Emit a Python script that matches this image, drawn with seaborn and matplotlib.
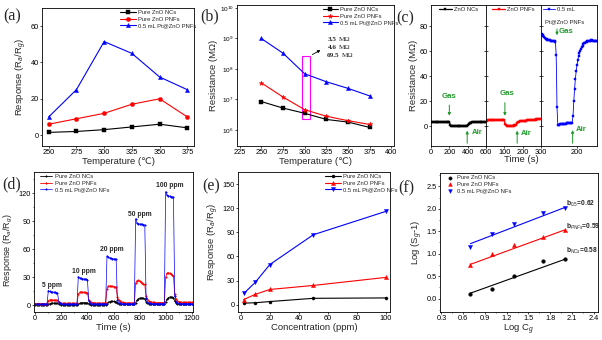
import matplotlib
matplotlib.use("Agg")
import matplotlib.pyplot as plt
import numpy as np
import seaborn as sns
from matplotlib.patches import Rectangle
from matplotlib.ticker import MultipleLocator, FixedLocator, NullLocator, FormatStrFormatter

# ---------------- data ----------------
# (a) response vs. operating temperature
temps = [250, 275, 300, 325, 350, 375]
resp_nc = [1.5, 2.0, 3.0, 4.5, 6.0, 4.0]
resp_pnf = [6.0, 9.0, 12.0, 17.0, 20.0, 10.0]
resp_pt = [10.0, 25.0, 51.5, 45.0, 32.0, 25.0]

# (b) baseline resistance vs. temperature
res_nc = [8.5e6, 5.2e6, 3.5e6, 2.2e6, 1.8e6, 1.2e6]
res_pnf = [3.5e7, 1.2e7, 4.6e6, 2.8e6, 2.0e6, 1.5e6]
res_pt = [1.0e9, 3.3e8, 6.95e7, 3.8e7, 2.3e7, 1.3e7]
res_notes = ["3.5", "4.6", "69.5"]

# (c) resistance transients (MOhm)
t_nc = list(range(0, 601, 10))
r_nc = [3.5, 3.5, 3.5, 3.5, 3.5, 3.5, 3.5, 3.5, 3.5, 3.5,
        3.5, 3.5, 3.5, 3.4, 3.4, 3.4, 3.4, 3.4, 3.4, 3.4,
        3.2, 1.0, 0.4, 0.3, 0.2, 0.2, 0.2, 0.2, 0.2, 0.2,
        0.2, 0.2, 0.2, 0.2, 0.2, 0.2, 0.2, 0.2, 0.3, 0.4,
        1.0, 1.8, 2.3, 2.6, 2.8, 3.0, 3.1, 3.1, 3.2, 3.2,
        3.2, 3.2, 3.2, 3.2, 3.2, 3.3, 3.3, 3.3, 3.3, 3.3,
        3.3]
t_pnf = list(range(0, 301, 5))
r_pnf = [4.4, 4.4, 4.5, 4.5, 4.5, 4.5, 4.5, 4.6, 4.6, 4.6,
         4.6, 4.6, 4.6, 4.7, 4.7, 4.7, 4.7, 4.7, 4.7, 4.7,
         4.6, 1.6, 0.6, 0.4, 0.4, 0.4, 0.4, 0.4, 0.4, 0.4,
         0.4, 0.5, 0.5, 0.8, 2.4, 3.2, 3.5, 3.7, 3.8, 3.9,
         4.0, 4.1, 4.2, 4.3, 4.4, 4.5, 4.6, 4.7, 4.8, 4.9,
         5.0, 5.0, 5.1, 5.2, 5.2, 5.3, 5.3, 5.4, 5.4, 5.5,
         5.5]
t_pt = list(range(112, 251, 2))
r_pt = [74, 73, 72, 71, 70.5, 70, 69.6, 69.3, 69, 68.8,
        68.6, 68.5, 68.4, 68.3, 68.2, 68, 68, 67.5, 57, 15,
        1.0, 1.1, 1.2, 1.3, 1.4, 1.5, 1.6, 1.7, 1.8, 1.9,
        2.0, 2.1, 2.2, 2.3, 2.3, 2.4, 2.4, 2.5, 2.6, 8,
        20, 30, 38, 44, 49, 53, 56, 58.5, 60.5, 62,
        63.5, 64.5, 65.5, 66.2, 66.8, 67.2, 67.5, 67.8, 68, 68,
        68.2, 68.5, 69, 68.8, 68.5, 68.3, 68.2, 68, 68, 68]

# (d) dynamic response to 5-100 ppm
t_dyn = list(range(0, 1201, 10))
dyn_nc = [0.8, 0.8, 0.8, 0.8, 0.8, 0.8, 0.8, 0.8, 0.8, 0.8,
          1.2, 1.8, 2.2, 2.5, 2.5, 2.4, 2.3, 2.2, 1.5, 1.1,
          0.9, 0.9, 0.9, 0.9, 0.9, 0.9, 0.9, 0.9, 0.9, 0.9,
          0.9, 0.9, 0.9, 1.5, 2.3, 2.8, 3.0, 3.0, 2.9, 2.8,
          2.6, 1.7, 1.2, 1.0, 1.0, 1.0, 1.0, 1.0, 1.0, 1.0,
          1.0, 1.0, 1.0, 1.0, 1.0, 2.0, 3.2, 4.0, 4.5, 4.5,
          4.3, 4.1, 3.8, 2.4, 1.6, 1.3, 1.1, 1.1, 1.1, 1.1,
          1.1, 1.1, 1.1, 1.1, 1.1, 1.1, 1.1, 3.0, 5.5, 7.0,
          7.8, 8.0, 7.8, 7.5, 7.0, 4.0, 2.5, 1.8, 1.5, 1.3,
          1.3, 1.3, 1.3, 1.3, 1.3, 1.3, 1.3, 1.3, 1.3, 1.3,
          3.5, 6.5, 8.2, 9.0, 9.0, 8.7, 8.3, 4.5, 2.6, 1.9,
          1.6, 1.4, 1.4, 1.4, 1.4, 1.4, 1.4, 1.4, 1.4, 1.4,
          1.4]
dyn_pnf = [2.0, 2.0, 2.0, 2.0, 2.0, 2.0, 2.0, 2.0, 2.0, 2.0,
           5.0, 6.0, 6.2, 6.0, 5.8, 5.6, 5.5, 5.4, 3.5, 2.8,
           2.5, 2.3, 2.2, 2.2, 2.2, 2.2, 2.2, 2.2, 2.2, 2.2,
           2.2, 2.2, 2.2, 12.0, 14.0, 14.3, 14.2, 14.0, 13.9, 13.8,
           13.6, 6.0, 4.0, 3.3, 3.0, 2.8, 2.6, 2.4, 2.4, 2.4,
           2.4, 2.4, 2.4, 2.4, 2.4, 18.0, 20.5, 21.0, 20.8, 20.5,
           20.2, 20.0, 19.6, 9.0, 6.0, 4.5, 3.8, 3.4, 3.1, 2.9,
           2.7, 2.7, 2.7, 2.7, 2.7, 2.7, 2.7, 24.0, 26.5, 26.8,
           26.0, 25.0, 24.0, 23.0, 22.5, 10.0, 6.5, 5.0, 4.2, 3.7,
           3.4, 3.2, 3.0, 3.0, 3.0, 3.0, 3.0, 3.0, 3.0, 3.0,
           30.0, 34.5, 35.0, 34.5, 33.5, 32.5, 31.5, 12.0, 7.0, 5.0,
           4.2, 3.7, 3.4, 3.2, 3.2, 3.2, 3.2, 3.2, 3.2, 3.2,
           3.2]
dyn_pt = [1.5, 1.5, 1.5, 1.5, 1.5, 1.5, 1.5, 1.5, 1.5, 1.5,
          16.0, 15.0, 14.6, 14.4, 14.2, 14.0, 13.8, 13.6, 4.0, 2.2,
          1.8, 1.7, 1.6, 1.6, 1.6, 1.6, 1.5, 1.5, 1.5, 1.5,
          1.5, 1.5, 1.5, 31.0, 29.5, 29.0, 28.7, 28.4, 28.2, 28.0,
          27.8, 5.0, 2.5, 2.0, 1.8, 1.7, 1.7, 1.7, 1.7, 1.7,
          1.7, 1.7, 1.7, 1.7, 1.7, 53.0, 51.5, 51.0, 50.6, 50.3,
          50.0, 49.7, 49.5, 6.0, 3.0, 2.2, 2.0, 1.9, 1.8, 1.8,
          1.8, 1.8, 1.8, 1.8, 1.8, 1.8, 1.8, 93.0, 88.0, 87.6,
          87.3, 87.0, 86.8, 86.6, 86.4, 8.0, 3.5, 2.5, 2.2, 2.1,
          2.0, 2.0, 2.0, 2.0, 2.0, 2.0, 2.0, 2.0, 2.0, 2.0,
          122.0, 118.0, 117.5, 117.0, 116.6, 116.3, 116.0, 10.0, 4.0, 2.8,
          2.3, 2.1, 2.0, 2.0, 2.0, 2.0, 2.0, 2.0, 2.0, 2.0,
          2.0]
ppm_labels = ["5 ppm", "10 ppm", "20 ppm", "50 ppm", "100 ppm"]
ppm_label_t = [125, 372, 590, 805, 1035]
ppm_label_y = [21, 36, 60, 97, 129]

# (e) response vs. concentration
conc = [2, 10, 20, 50, 100]
conc_nc = [2.0, 2.5, 4.0, 8.0, 8.5]
conc_pnf = [6.5, 13.0, 19.0, 24.0, 34.0]
conc_pt = [14.0, 28.0, 50.0, 87.0, 116.0]

# (f) log-log fit
log_c = [0.70, 1.00, 1.30, 1.70, 2.00]
log_nc = [0.10, 0.22, 0.50, 0.84, 0.89]
log_pnf = [0.75, 1.00, 1.20, 1.37, 1.52]
log_pt = [1.15, 1.44, 1.66, 1.90, 2.02]
slopes = [0.58, 0.59, 0.62]
intercepts = [-0.286, 0.35, 0.79]
slope_tags = ["NCs", "PNFs", "0.5"]

# ---------------- style ----------------
sns.set_style("ticks")
plt.rcParams["font.family"] = ["Liberation Sans", "DejaVu Sans"]
plt.rcParams["mathtext.fontset"] = "custom"
plt.rcParams["mathtext.rm"] = "Liberation Sans"
plt.rcParams["mathtext.it"] = "Liberation Sans:italic"
plt.rcParams["mathtext.bf"] = "Liberation Sans:bold"
plt.rcParams["axes.edgecolor"] = "black"
plt.rcParams["xtick.color"] = "black"
plt.rcParams["ytick.color"] = "black"

K, R, B = "#000000", "#ff0000", "#0000ff"
GREEN = "#1f9a2a"
LAB = 6.8
TICK = 5.3
LEG = 4.2
SERIF = ["Liberation Serif", "DejaVu Serif"]

W, H = 602, 340
fig = plt.figure(figsize=(W / 100, H / 100), dpi=100)
fig.patch.set_facecolor("white")


def panel(l, t, r, b):
    ax = fig.add_axes([l / W, 1 - b / H, (r - l) / W, (b - t) / H])
    ax.tick_params(labelsize=TICK, length=1.6, width=0.5, pad=0.8, direction="out")
    ax.tick_params(which="minor", length=1.0, width=0.4, direction="out")
    for s in ax.spines.values():
        s.set_linewidth(0.6)
        s.set_color("black")
    return ax


def line(ax, x, y, color, marker, ms=3.0, lw=0.8, label=None):
    sns.lineplot(x=x, y=y, ax=ax, color=color, marker=marker, markersize=ms,
                 linewidth=lw, markeredgecolor=color, markeredgewidth=0.3,
                 label=label, estimator=None, sort=False)


def legend(ax, **kw):
    opts = dict(fontsize=LEG, frameon=False, handlelength=2.6, handletextpad=0.4,
                labelspacing=0.25, borderaxespad=0.2, borderpad=0.2)
    opts.update(kw)
    return ax.legend(**opts)


# ---------------- (a) ----------------
ax = panel(42, 8, 194, 146)
line(ax, temps, resp_nc, K, "s", label="Pure ZnO NCs")
line(ax, temps, resp_pnf, R, "o", label="Pure ZnO PNFs")
line(ax, temps, resp_pt, B, "^", label="0.5 mL Pt@ZnO PNFs")
ax.set_xlim(244, 381)
ax.set_xticks(temps)
ax.set_ylim(-6, 70)
ax.set_yticks([0, 20, 40, 60])
ax.set_xlabel("Temperature (\u2103)", fontsize=LAB, labelpad=0.5)
ax.set_ylabel("Response (R$_a$/R$_g$)", fontsize=LAB, labelpad=1)
legend(ax, loc="upper left", bbox_to_anchor=(0.5, 1.0))

# ---------------- (b) ----------------
ax = panel(237, 5, 394, 146)
line(ax, temps, res_nc, K, "s", label="Pure ZnO NCs")
line(ax, temps, res_pnf, R, "*", ms=3.5, label="Pure ZnO PNFs")
line(ax, temps, res_pt, B, "^", label="0.5 mL Pt@ZnO PNFs")
ax.set_yscale("log")
ax.set_ylim(10 ** 5.47, 10 ** 10.1)
ax.yaxis.set_major_locator(FixedLocator([1e6, 1e7, 1e8, 1e9, 1e10]))
ax.yaxis.set_minor_locator(NullLocator())
ax.tick_params(axis="y", labelsize=4.6)
ax.set_xlim(222, 403)
ax.set_xticks([225, 250, 275, 300, 325, 350, 375, 400])
ax.set_xlabel("Temperature (\u2103)", fontsize=LAB, labelpad=0.5)
ax.set_ylabel("Resistance (M\u03a9)", fontsize=LAB, labelpad=1)
ax.add_patch(Rectangle((296.5, 2.3e6), 9.5, 2.7e8 - 2.3e6, fill=False,
                       edgecolor="#ff00ff", linewidth=0.8, zorder=1))
ax.annotate("", xy=(321, 10 ** 8.66), xytext=(306, 10 ** 8.43),
            arrowprops=dict(arrowstyle="-|>", color="black", lw=0.6, mutation_scale=4))
note_x = [327, 327, 326]
note_y = [10 ** 8.98, 10 ** 8.72, 10 ** 8.45]
note_gap = [8.0, 8.0, 10.6]
for s, xx, yy, g in zip(res_notes, note_x, note_y, note_gap):
    ax.text(xx, yy, s, fontsize=5.1, fontweight="bold", family=SERIF, va="center")
    ax.annotate("M\u03a9", xy=(xx, yy), xytext=(g, 0), textcoords="offset points",
                fontsize=5.1, family=SERIF, va="center")
legend(ax, loc="upper left", bbox_to_anchor=(0.53, 1.0))

# ---------------- (c) ----------------
axc1 = panel(431, 5, 486, 146)
axc2 = panel(486, 5, 541, 146)
axc3 = panel(541, 5, 597, 146)
line(axc1, t_nc, r_nc, K, "s", ms=1.8, lw=0.9, label="ZnO NCs")
line(axc2, t_pnf, r_pnf, R, "s", ms=1.8, lw=0.9, label="ZnO PNFs")
line(axc3, t_pt, r_pt, B, "s", ms=1.6, lw=0.6, label="0.5 mL")
for a in (axc1, axc2, axc3):
    a.set_ylim(-16, 97)
    a.set_yticks([0, 20, 40, 60, 80])
axc1.set_xlim(0, 600)
axc1.set_xticks([0, 200, 400, 600])
axc2.set_xlim(0, 300)
axc2.set_xticks([0, 100, 200, 300])
axc2.set_xticklabels(["", "100", "200", "300"])
axc3.set_xlim(110, 250)
axc3.set_xticks([200])
for a in (axc2, axc3):
    a.tick_params(axis="y", direction="inout", length=2.6, labelleft=False)
axc1.set_ylabel("Resistance (M\u03a9)", fontsize=LAB, labelpad=1)
fig.text(521 / W, 1 - 160 / H, "Time (s)", fontsize=LAB, ha="center", va="center")
legend(axc1, loc="upper center", handlelength=2.2)
legend(axc2, loc="upper center", handlelength=2.2)
legend(axc3, loc="upper left", handlelength=2.0, bbox_to_anchor=(0.0, 1.0))
axc3.text(0.08, 0.88, "Pt@ZnO PNFs", transform=axc3.transAxes, fontsize=LEG, va="center")


def gas_air(ax, x_gas, y_gas, x_air, y_air, gas_txt, air_txt):
    ax.annotate("", xy=(x_gas, y_gas[1]), xytext=(x_gas, y_gas[0]),
                arrowprops=dict(arrowstyle="-|>", color=GREEN, lw=0.7, mutation_scale=4))
    ax.annotate("", xy=(x_air, y_air[1]), xytext=(x_air, y_air[0]),
                arrowprops=dict(arrowstyle="-|>", color=GREEN, lw=0.7, mutation_scale=4))
    ax.text(gas_txt[0], gas_txt[1], "Gas", color=GREEN, fontsize=5.6, fontweight="bold",
            ha=gas_txt[2], va="center")
    ax.text(air_txt[0], air_txt[1], "Air", color=GREEN, fontsize=5.6, fontweight="bold",
            ha="left", va="center")


gas_air(axc1, 200, (19, 6), 395, (-16, -1.5), (200, 24, "center"), (440, -5))
gas_air(axc2, 103, (21, 6), 170, (-16, -1.5), (114, 26, "center"), (188, -6))
gas_air(axc3, 150, (80, 70.5), 189, (-16, -1.0), (155, 76, "left"), (197, -3))

# ---------------- (d) ----------------
ax = panel(34, 172, 193, 312)
line(ax, t_dyn, dyn_nc, K, "o", ms=1.1, lw=0.6, label="Pure ZnO NCs")
line(ax, t_dyn, dyn_pnf, R, "o", ms=1.1, lw=0.6, label="Pure ZnO PNFs")
line(ax, t_dyn, dyn_pt, B, "o", ms=1.1, lw=0.5, label="0.5 mL Pt@ZnO NFs")
ax.set_xlim(-10, 1210)
ax.set_xticks(range(0, 1201, 200))
ax.xaxis.set_minor_locator(MultipleLocator(100))
ax.set_ylim(-7, 143)
ax.set_yticks([0, 30, 60, 90, 120])
ax.yaxis.set_minor_locator(MultipleLocator(15))
ax.set_xlabel("Time (s)", fontsize=LAB, labelpad=0.5)
ax.set_ylabel("Response (R$_a$/R$_g$)", fontsize=6.5, labelpad=1)
ax.yaxis.set_label_coords(-0.12, 0.44)
for s, xx, yy in zip(ppm_labels, ppm_label_t, ppm_label_y):
    ax.text(xx, yy, s, fontsize=4.9, fontweight="bold", ha="center", va="center")
legend(ax, loc="upper left", bbox_to_anchor=(0.02, 1.0), handlelength=2.2)

# ---------------- (e) ----------------
ax = panel(238, 172, 390, 312)
line(ax, conc, conc_nc, K, "o", ms=2.2, label="Pure ZnO NCs")
line(ax, conc, conc_pnf, R, "^", ms=3.0, label="Pure ZnO PNFs")
line(ax, conc, conc_pt, B, "v", ms=3.0, label="0.5 mL Pt@ZnO NFs")
ax.set_xlim(-2, 103)
ax.set_xticks(range(0, 101, 20))
ax.set_ylim(-9, 165)
ax.set_yticks([0, 30, 60, 90, 120, 150])
ax.set_xlabel("Concentration (ppm)", fontsize=LAB, labelpad=0.5)
ax.set_ylabel("Response (R$_a$/R$_g$)", fontsize=LAB, labelpad=1)
legend(ax, loc="upper left", bbox_to_anchor=(0.56, 1.0))

# ---------------- (f) ----------------
ax = panel(440, 173, 598, 312)
sns.scatterplot(x=log_c, y=log_nc, ax=ax, color=K, marker="o", s=7, edgecolor=K,
                linewidth=0.3, label="Pure ZnO NCs")
sns.scatterplot(x=log_c, y=log_pnf, ax=ax, color=R, marker="^", s=9, edgecolor=R,
                linewidth=0.3, label="Pure ZnO PNFs")
sns.scatterplot(x=log_c, y=log_pt, ax=ax, color=B, marker="v", s=9, edgecolor=B,
                linewidth=0.3, label="0.5 mL Pt@ZnO NFs")
fit_x = [0.70, 2.00]
for b, a0, col in zip(slopes, intercepts, [K, R, B]):
    sns.lineplot(x=fit_x, y=[b * fit_x[0] + a0, b * fit_x[1] + a0], ax=ax,
                 color=col, linewidth=0.8, legend=False)
tag_y = [1.07, 1.60, 2.10]
for b, tag, yy in zip(slopes, slope_tags, tag_y):
    ax.text(2.02, yy, "b$_{%s}$=%.2f" % (tag, b), fontsize=4.8, fontweight="bold",
            ha="left", va="center")
ax.set_xlim(0.28, 2.46)
ax.set_xticks(np.round(np.arange(0.3, 2.41, 0.3), 1))
ax.xaxis.set_major_formatter(FormatStrFormatter("%.1f"))
ax.xaxis.set_minor_locator(MultipleLocator(0.15))
ax.set_ylim(-0.3, 2.8)
ax.set_yticks([0.0, 0.5, 1.0, 1.5, 2.0, 2.5])
ax.yaxis.set_major_formatter(FormatStrFormatter("%.1f"))
ax.yaxis.set_minor_locator(MultipleLocator(0.25))
ax.set_xlabel("Log C$_g$", fontsize=LAB, labelpad=0.5)
ax.set_ylabel("Log (S$_g$-1)", fontsize=LAB, labelpad=1)
legend(ax, loc="upper left", bbox_to_anchor=(0.02, 1.0), handlelength=1.5, markerscale=0.9)

# ---------------- panel tags ----------------
for tag, x, y in [("(a)", 3, 16), ("(b)", 200, 16), ("(c)", 396, 18),
                  ("(d)", 2, 184), ("(e)", 202, 186), ("(f)", 398, 188)]:
    fig.text(x / W, 1 - y / H, tag, fontsize=11.5, family=SERIF, va="center", ha="left")

fig.savefig("out.png", dpi=100, facecolor="white")
